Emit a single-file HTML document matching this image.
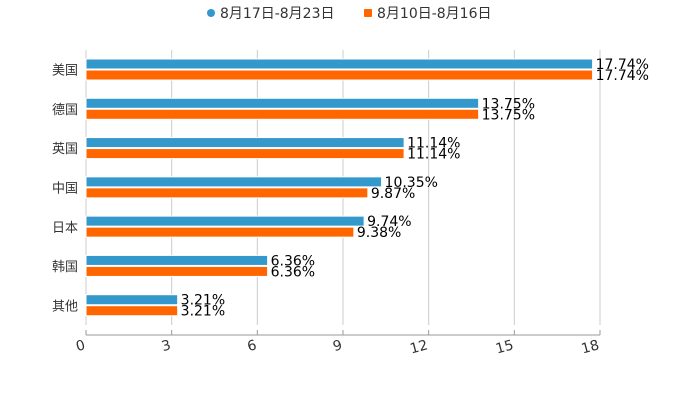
<!DOCTYPE html>
<html><head><meta charset="utf-8"><style>
body{margin:0;background:#fff;}
svg{display:block;font-family:"DejaVu Sans","Noto Sans CJK SC",sans-serif;}
</style></head><body>
<svg id="c" width="700" height="400"></svg>
<script>
const categories=["美国","德国","英国","中国","日本","韩国","其他"];
const seriesA=[17.74,13.75,11.14,10.35,9.74,6.36,3.21];
const seriesB=[17.74,13.75,11.14,9.87,9.38,6.36,3.21];
const seriesNames=["8月17日-8月23日","8月10日-8月16日"];
const ticks=[0,3,6,9,12,15,18];
const svg=document.getElementById('c');
const NS='http://www.w3.org/2000/svg';
const x0=86,x1=600,plotTop=50,plotBottom=325,maxV=18;
const band=(plotBottom-plotTop)/categories.length;
const xs=v=>x0+(v/maxV)*(x1-x0);
function mk(t,a,p){const e=document.createElementNS(NS,t);for(const k in a)e.setAttribute(k,a[k]);(p||svg).appendChild(e);return e;}
ticks.forEach((t,i)=>{
  const g=mk('line',{x1:xs(t),x2:xs(t),y1:plotTop,y2:plotBottom,stroke:'#ccc','stroke-width':1});
  
  
  const tk=mk('line',{x1:xs(t),x2:xs(t),y1:330,y2:335,stroke:'#999'});
  
  
  const tx=mk('text',{x:xs(t),y:349,'font-size':14,fill:'#333','text-anchor':'end',transform:`rotate(-15 ${xs(t)} 349)`});
  tx.textContent=t;
  
  
});
const ax=mk('line',{x1:x0,x2:x1,y1:335,y2:335,stroke:'#999'});


categories.forEach((c,i)=>{
  const b=plotTop+i*band;
  const l=mk('text',{x:78,y:b+band/2+5,'font-size':13,fill:'#333','text-anchor':'end'});
  l.textContent=c;
  
  
  [[seriesA,'#3399cc',b+9],[seriesB,'#ff6600',b+20]].forEach(([s,col,y],k)=>{
    const r=mk('rect',{x:x0,y:y,width:xs(s[i])-x0,height:10,fill:col,stroke:'#fff','stroke-width':1});
    
    
    const v=mk('text',{x:xs(s[i])+3,y:y+10,'font-size':14,fill:'#000'});
    v.textContent=s[i].toFixed(2)+'%';
    
    
  });
});
const legend=[[211,'#3399cc','circle'],[368,'#ff6600','rect']];
legend.forEach(([lx,col,sh],k)=>{
  const g=mk('g',{});
  
  
  if(sh==='circle')mk('circle',{cx:lx,cy:13,r:4,fill:col},g);
  else mk('rect',{x:lx-4,y:9,width:8,height:8,rx:1,fill:col},g);
  const t=mk('text',{x:lx+9,y:18,'font-size':14,fill:'#333'},g);
  t.textContent=seriesNames[k];
});
</script>
</body></html>
